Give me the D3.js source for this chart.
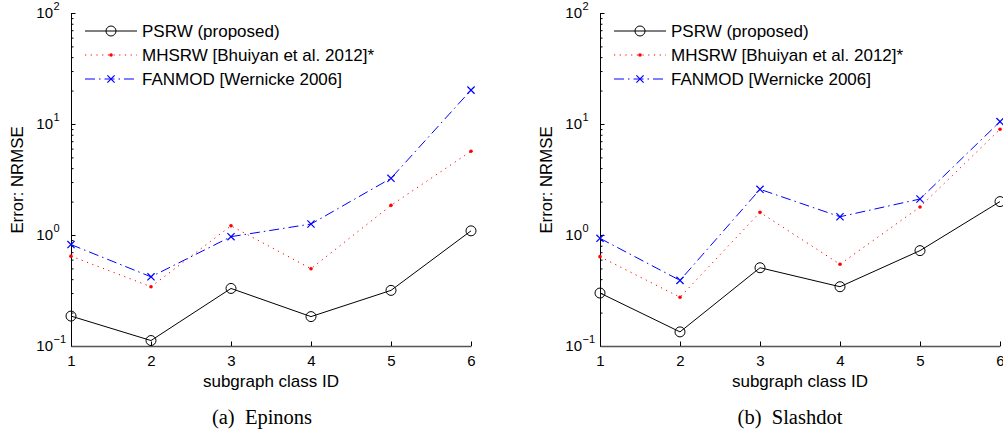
<!DOCTYPE html>
<html>
<head>
<meta charset="utf-8">
<script src="https://cdn.jsdelivr.net/npm/d3@7"></script>
<style>
  body { margin: 0; background: #fff; }
  svg { display: block; }
  text { font-family: Arial, "Liberation Sans", Helvetica, sans-serif; fill: #000; }
</style>
</head>
<body>
<svg id="chart" width="1003" height="434"></svg>
<script>
// --- data ---
const classIds = [1, 2, 3, 4, 5, 6];
const yMajorTicks = [0.1, 1, 10, 100];
const seriesNames = ["PSRW (proposed)", "MHSRW [Bhuiyan et al. 2012]*", "FANMOD [Wernicke 2006]"];

const epinonsPSRW   = [0.186, 0.112, 0.33, 0.184, 0.317, 1.09];
const epinonsMHSRW  = [0.645, 0.342, 1.21, 0.497, 1.85, 5.68];
const epinonsFANMOD = [0.82, 0.42, 0.966, 1.256, 3.24, 20.2];

const slashdotPSRW   = [0.30, 0.134, 0.507, 0.342, 0.723, 2.0];
const slashdotMHSRW  = [0.638, 0.275, 1.6, 0.545, 1.79, 8.96];
const slashdotFANMOD = [0.933, 0.39, 2.58, 1.46, 2.11, 10.5];

const svg = d3.select("#chart");

// line styles, one per series (MATLAB-ish: 'ko-', 'r.:', 'bx-.')
const styles = [
  { color: "#000", dash: null, marker: "circle" },
  { color: "#ff0000", dash: "1.2,4.5", marker: "dot" },
  { color: "#0000ff", dash: "10,4,1.5,4", marker: "cross" }
];

function drawMarker(g, type, color, cx, cy) {
  if (type === "circle") {
    g.append("circle").attr("cx", cx).attr("cy", cy).attr("r", 5)
      .attr("fill", "none").attr("stroke", color).attr("stroke-width", 1);
  } else if (type === "dot") {
    g.append("circle").attr("cx", cx).attr("cy", cy).attr("r", 1.8)
      .attr("fill", color);
  } else {
    const s = 3.6;
    g.append("path")
      .attr("d", `M${cx - s},${cy - s}L${cx + s},${cy + s}M${cx - s},${cy + s}L${cx + s},${cy - s}`)
      .attr("stroke", color).attr("stroke-width", 1.2);
  }
}

function drawPanel(opts) {
  const g = svg.append("g");

  const x = d3.scaleLinear().domain([1, 6]).range([opts.x0, opts.x0 + 400]);
  const y = d3.scaleLog().domain([0.1, 100]).range([346, 13]);

  // minor log ticks on y
  const minor = [];
  [0.1, 1, 10].forEach(d => { for (let k = 2; k <= 9; k++) minor.push(d * k); });

  g.append("g")
    .attr("transform", `translate(${opts.x0},0)`)
    .call(d3.axisLeft(y).tickValues(minor).tickSize(-2.5).tickFormat(""))
    .call(a => a.select(".domain").remove())
    .selectAll("line").attr("stroke", "#000");

  // major y ticks with 10^n labels ("10" right-aligned, exponent up and right)
  const yAxis = g.append("g")
    .attr("transform", `translate(${opts.x0},0)`)
    .call(d3.axisLeft(y).tickValues(yMajorTicks).tickSizeInner(-4.5).tickSizeOuter(0).tickPadding(18));
  yAxis.select(".domain").attr("stroke", "#000");
  yAxis.selectAll(".tick").each(function (d) {
    const tick = d3.select(this);
    const exp = Math.round(Math.log10(d));
    tick.select("text").text("10").style("font-size", "15px");
    tick.append("text")
      .attr("x", -17.5).attr("y", -3.4)
      .attr("text-anchor", "start")
      .style("font-size", "11px")
      .text(exp < 0 ? "\u2212" + (-exp) : String(exp));
  });

  // x axis
  const xAxis = g.append("g")
    .attr("transform", "translate(0,346)")
    .call(d3.axisBottom(x).tickValues(classIds).tickFormat(d3.format("d"))
      .tickSizeInner(-4.5).tickSizeOuter(0).tickPadding(9.5));
  xAxis.select(".domain").attr("stroke", "#555").attr("stroke-width", 1.4);
  xAxis.selectAll("text").style("font-size", "15px");

  // series
  const line = d3.line().x((d, i) => x(classIds[i])).y(d => y(d));
  opts.series.forEach((vals, si) => {
    const st = styles[si];
    g.append("path")
      .datum(vals)
      .attr("d", line)
      .attr("fill", "none")
      .attr("stroke", st.color)
      .attr("stroke-width", 1)
      .attr("stroke-dasharray", st.dash);
    vals.forEach((v, i) => drawMarker(g, st.marker, st.color, x(classIds[i]), y(v)));
  });

  // legend
  const lg = g.append("g");
  const rowsY = [31, 55, 79];
  seriesNames.forEach((name, si) => {
    const st = styles[si];
    const ly = rowsY[si];
    const lx0 = opts.x0 + 14, lx1 = opts.x0 + 66;
    lg.append("line")
      .attr("x1", lx0).attr("x2", lx1).attr("y1", ly).attr("y2", ly)
      .attr("stroke", st.color).attr("stroke-width", 1)
      .attr("stroke-dasharray", st.dash);
    drawMarker(lg, st.marker, st.color, (lx0 + lx1) / 2, ly);
    lg.append("text")
      .attr("x", opts.x0 + 71).attr("y", ly + 6)
      .style("font-size", "17px")
      .text(name);
  });

  // axis labels
  g.append("text")
    .attr("transform", `translate(${opts.yLabelX},180) rotate(-90)`)
    .attr("text-anchor", "middle")
    .style("font-size", "16.8px")
    .text("Error: NRMSE");

  g.append("text")
    .attr("x", opts.x0 + 200).attr("y", 387)
    .attr("text-anchor", "middle")
    .style("font-size", "17px")
    .text("subgraph class ID");

  // caption
  g.append("text")
    .attr("x", opts.captionX).attr("y", 424)
    .attr("text-anchor", "middle")
    .style("font-family", "'Liberation Serif', 'Times New Roman', serif")
    .style("font-size", "20.5px")
    .attr("xml:space", "preserve")
    .text(opts.caption);
}

drawPanel({
  x0: 71, yLabelX: 23, captionX: 262, caption: "(a)  Epinons",
  series: [epinonsPSRW, epinonsMHSRW, epinonsFANMOD]
});
drawPanel({
  x0: 600, yLabelX: 552, captionX: 790, caption: "(b)  Slashdot",
  series: [slashdotPSRW, slashdotMHSRW, slashdotFANMOD]
});
</script>
</body>
</html>
